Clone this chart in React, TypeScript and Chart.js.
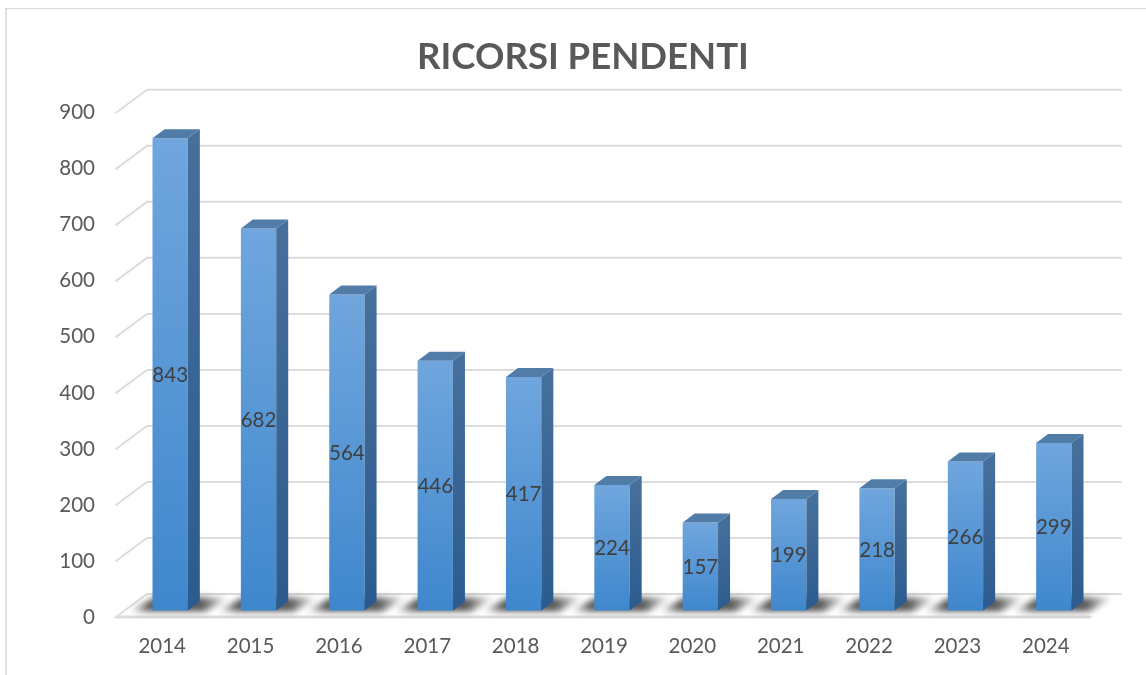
import React, { useEffect, useRef } from "react";
import { Chart, registerables } from "chart.js";

Chart.register(...registerables);

const years = ["2014", "2015", "2016", "2017", "2018", "2019", "2020", "2021", "2022", "2023", "2024"];
const pending = [843, 682, 564, 446, 417, 224, 157, 199, 218, 266, 299];
const yTicks = [0, 100, 200, 300, 400, 500, 600, 700, 800, 900];
const chartTitle = "RICORSI PENDENTI";

const FONT = "Lato, 'Open Sans', sans-serif";
const WALL_DX = 31;
const WALL_DY = -23;
const BAR_DX = 8;
const BAR_DY = -6.5;
const SIDE_DX = 12;
const SIDE_DY = -9;

const scene = {
  id: "scene",
  beforeDatasetsDraw(chart: any) {
    const { ctx, chartArea: a, scales } = chart;
    const y = scales.y;
    ctx.save();
    ctx.strokeStyle = "#dcdcdc";
    ctx.lineWidth = 2;
    ctx.lineCap = "round";
    yTicks.forEach((v) => {
      const py = y.getPixelForValue(v);
      ctx.beginPath();
      ctx.moveTo(a.left - 2, py);
      ctx.lineTo(a.left - 2 + WALL_DX, py + WALL_DY);
      ctx.lineTo(a.right + WALL_DX, py + WALL_DY);
      ctx.stroke();
    });
    const p0 = y.getPixelForValue(0);
    ctx.lineWidth = 3;
    ctx.beginPath();
    ctx.moveTo(a.left - 2, p0);
    ctx.lineTo(a.right, p0);
    ctx.stroke();
    ctx.restore();

    ctx.save();
    ctx.translate(BAR_DX, BAR_DY);
    const meta = chart.getDatasetMeta(0);
    meta.data.forEach((el: any) => {
      const { x, width, base } = el.getProps(["x", "width", "base"], true);
      const l = x - width / 2;
      const r = x + width / 2;
      const g = ctx.createLinearGradient(l - 24, 0, r + 42, 0);
      g.addColorStop(0, "rgba(60,60,60,0)");
      g.addColorStop(0.2, "rgba(60,60,60,0.85)");
      g.addColorStop(0.72, "rgba(60,60,60,0.85)");
      g.addColorStop(1, "rgba(60,60,60,0)");
      ctx.save();
      ctx.filter = "blur(3px)";
      ctx.fillStyle = g;
      ctx.beginPath();
      ctx.moveTo(l - 24, base + 1);
      ctx.lineTo(r + 18, base + 1);
      ctx.lineTo(r + 42, base - 13);
      ctx.lineTo(l + 2, base - 13);
      ctx.closePath();
      ctx.fill();
      ctx.restore();
    });
  },
  afterDatasetsDraw(chart: any) {
    const { ctx } = chart;
    const meta = chart.getDatasetMeta(0);
    meta.data.forEach((el: any) => {
      const { x, y, width, base } = el.getProps(["x", "y", "width", "base"], true);
      const l = x - width / 2;
      const r = x + width / 2;
      const g = ctx.createLinearGradient(0, y, 0, base);
      g.addColorStop(0, "#466f9c");
      g.addColorStop(1, "#2b5b8e");
      ctx.fillStyle = g;
      ctx.beginPath();
      ctx.moveTo(r, y);
      ctx.lineTo(r + SIDE_DX, y + SIDE_DY);
      ctx.lineTo(r + SIDE_DX, base + SIDE_DY);
      ctx.lineTo(r, base);
      ctx.closePath();
      ctx.fill();
      ctx.fillStyle = "#517ca8";
      ctx.beginPath();
      ctx.moveTo(l, y);
      ctx.lineTo(l + SIDE_DX, y + SIDE_DY);
      ctx.lineTo(r + SIDE_DX, y + SIDE_DY);
      ctx.lineTo(r, y);
      ctx.closePath();
      ctx.fill();
    });
    ctx.fillStyle = "#404040";
    ctx.font = `20.5px ${FONT}`;
    ctx.textAlign = "center";
    ctx.textBaseline = "middle";
    meta.data.forEach((el: any, i: number) => {
      const { x, y, base } = el.getProps(["x", "y", "base"], true);
      ctx.fillText(String(pending[i]), x, (y + base) / 2 + 1);
    });
    ctx.restore();
  },
};

export default function App() {
  const ref = useRef<HTMLCanvasElement | null>(null);
  useEffect(() => {
    if (!ref.current) return;
    const chart = new Chart(ref.current, {
      type: "bar",
      data: {
        labels: years,
        datasets: [
          {
            data: pending,
            clip: false,
            categoryPercentage: 0.4,
            barPercentage: 1,
            borderWidth: 0,
            backgroundColor: (c: any) => {
              const { chart: ch, parsed } = c;
              if (!parsed || !ch.chartArea) return "#5b9bd5";
              const s = ch.scales.y;
              const g = ch.ctx.createLinearGradient(0, s.getPixelForValue(parsed.y), 0, s.getPixelForValue(0));
              g.addColorStop(0, "#70a6dd");
              g.addColorStop(1, "#3f87cd");
              return g;
            },
          },
        ],
      } as any,
      options: {
        animation: false,
        responsive: false,
        layout: { padding: { left: 20, right: 0, top: 0, bottom: 0 } },
        plugins: {
          legend: { display: false },
          tooltip: { enabled: false },
          title: {
            display: true,
            text: chartTitle,
            color: "#595959",
            font: { family: FONT, size: 36.5, weight: "bold", lineHeight: 1.2 },
            padding: { top: 35, bottom: 34 },
          },
        },
        scales: {
          x: {
            grid: { display: false, drawTicks: false },
            border: { display: false },
            ticks: { color: "#595959", font: { family: FONT, size: 20.5 }, padding: 17, maxRotation: 0 },
            afterFit: (s: any) => {
              s.height = 58;
            },
          },
          y: {
            min: 0,
            max: 900,
            grid: { display: false, drawTicks: false },
            border: { display: false },
            ticks: { stepSize: 100, color: "#595959", font: { family: FONT, size: 20.5 }, padding: 23 },
            afterFit: (s: any) => {
              s.width = 98;
            },
          },
          rightGutter: {
            position: "right",
            grid: { display: false, drawTicks: false },
            border: { display: false },
            ticks: { display: false },
            afterFit: (s: any) => {
              s.width = 56;
            },
          },
        },
      } as any,
      plugins: [scene],
    });
    return () => chart.destroy();
  }, []);
  return (
    <div style={{ position: "absolute", left: 0, top: 0, width: 1146, height: 675, overflow: "hidden", background: "#fff" }}>
      <canvas ref={ref} width={1146} height={675} style={{ display: "block", filter: "blur(0.5px)" }} />
      <div
        style={{
          position: "absolute",
          left: 5,
          top: 8,
          right: -4,
          bottom: -4,
          borderLeft: "2px solid #e0e0e0",
          borderTop: "1px solid #d9d9d9",
          pointerEvents: "none",
        }}
      />
    </div>
  );
}
